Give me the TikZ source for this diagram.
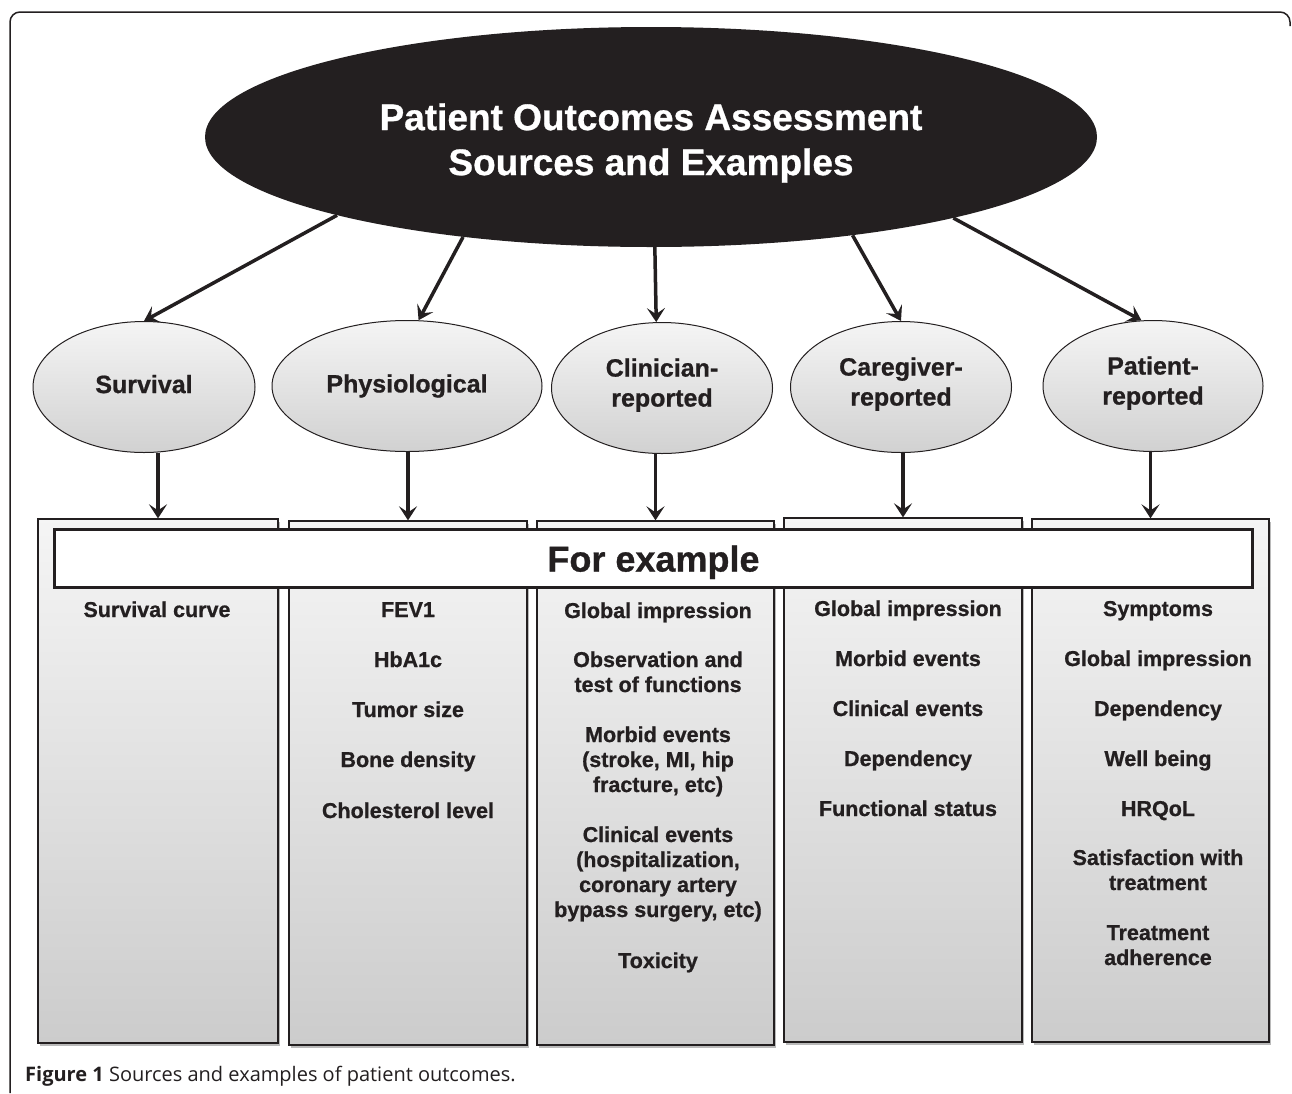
\documentclass[tikz,border=0pt]{standalone}
\usepackage{fontspec}
\setmainfont{Liberation Sans}[BoldFeatures={FakeBold=0.8}]
\newfontfamily\capfont{Open Sans}
\usetikzlibrary{shapes.geometric,arrows.meta,shadows}
\definecolor{ink}{HTML}{231F20}
\begin{document}
\begin{tikzpicture}[x=1pt,y=-1pt,
  sub/.style={ellipse, draw=ink, line width=1pt, top color=white!96!black, bottom color=white!82!black,
    font=\bfseries\fontsize{25}{30}\selectfont, text=ink, align=center, inner sep=0pt, minimum height=131pt},
  box/.style={draw=ink, line width=1.3pt, top color=white!96!black, bottom color=white!80!black,
    drop shadow={shadow xshift=2pt, shadow yshift=-3pt, opacity=0.45, fill=black!60}, inner sep=0pt},
  arr/.style={line width=3.5pt, draw=ink, -{Stealth[length=14pt,width=18pt,inset=6pt]}},
  item/.style={font=\bfseries\fontsize{21.5}{25}\selectfont, text=ink, anchor=base, inner sep=0pt}]
\useasboundingbox (0,0) rectangle (1292,1093);
\fill[white] (0,0) rectangle (1292,1093);
% frame
\draw[ink, line width=1.5pt, rounded corners=10pt] (10,1093) -- (10,12) -- (1290,12) -- (1290,26);
% top ellipse
\node[ellipse, fill=ink, minimum width=892pt, minimum height=220pt, inner sep=0pt] (top) at (651,137) {};
\node[text=white, align=center, inner sep=0pt, font=\bfseries\fontsize{37}{45}\selectfont] (toptext) at (651,143)
  {Patient Outcomes Assessment\\Sources and Examples};
% sub ellipses
\node[sub, minimum width=222pt, text depth=6pt] (s1) at (144,387) {Survival};
\node[sub, minimum width=270pt] (s2) at (407,386) {Physiological};
\node[sub, minimum width=221pt, text depth=11pt] (s3) at (662,388) {Clinician-\\reported};
\node[sub, minimum width=221pt, text depth=11pt] (s4) at (901,387) {Caregiver-\\reported};
\node[sub, minimum width=220pt, text depth=11pt] (s5) at (1153,386) {Patient-\\reported};
% boxes
\node[box, minimum width=240pt, minimum height=524pt] (b1) at (158,781) {};
\node[box, minimum width=238pt, minimum height=524pt] (b2) at (408,783) {};
\node[box, minimum width=237pt, minimum height=524pt] (b3) at (655.5,783) {};
\node[box, minimum width=238pt, minimum height=524pt] (b4) at (903,780) {};
\node[box, minimum width=237pt, minimum height=523pt] (b5) at (1150.5,780.5) {};
% for example
\node[draw=ink, line width=3.5pt, fill=white, minimum width=1198pt, minimum height=58pt, inner sep=0pt,
  text depth=0pt, font=\bfseries\fontsize{36}{40}\selectfont, text=ink] (fe) at (653.5,558.5) {For example};
% arrows
\draw[arr] (top.194.4) -- (s1.north);
\draw[arr] (top.208) -- (s2.80);
\draw[arr] (top.272) -- (s3.95);
\draw[arr] (top.334.5) -- (s4.north);
\draw[arr] (top.345.9) -- (s5.100);
\draw[arr] (s1.south -| b1.north) -- (b1.north);
\draw[arr] (s2.south -| b2.north) -- (b2.north);
\draw[arr] (s3.south -| b3.north) -- (b3.north);
\draw[arr] (s4.south -| b4.north) -- (b4.north);
\draw[arr] (s5.south -| b5.north) -- (b5.north);
% items
\node[item] (c1-1) at (157,617) {Survival curve};
\foreach \yy/\t [count=\i] in {617/FEV1, 667/HbA1c, 717/Tumor size, 767/Bone density, 818/Cholesterol level}
  \node[item] (c2-\i) at (408,\yy) {\t};
\foreach \yy/\t [count=\i] in {618/Global impression, 667/Observation and, 692/test of functions,
  742/Morbid events, 767/{(stroke, MI, hip}, 792/{fracture, etc)}, 842/Clinical events,
  867/{(hospitalization,}, 892/coronary artery, 917/{bypass surgery, etc)}, 968/Toxicity}
  \node[item] (c3-\i) at (658,\yy) {\t};
\foreach \yy/\t [count=\i] in {616/Global impression, 666/Morbid events, 716/Clinical events, 766/Dependency, 816/Functional status}
  \node[item] (c4-\i) at (908,\yy) {\t};
\foreach \yy/\t [count=\i] in {616/Symptoms, 666/Global impression, 716/Dependency, 766/Well being, 816/HRQoL,
  865/Satisfaction with, 890/treatment, 940/Treatment, 965/adherence}
  \node[item] (c5-\i) at (1158,\yy) {\t};
% caption
\node[anchor=base west, inner sep=0pt, font=\capfont\fontsize{20}{24}\selectfont, text=ink] (cap) at (25,1081)
  {\textbf{Figure 1} Sources and examples of patient outcomes.};
\end{tikzpicture}
\end{document}
